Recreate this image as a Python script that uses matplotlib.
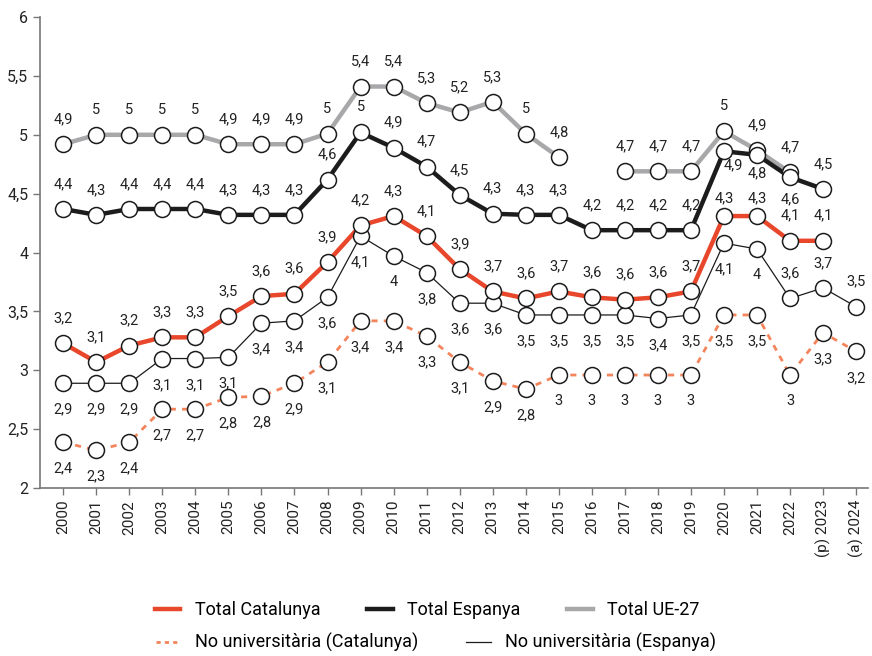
import numpy as np
import matplotlib.pyplot as plt
from matplotlib.lines import Line2D

plt.rcParams['font.family'] = ['Roboto', 'DejaVu Sans']

anys = [str(a) for a in range(2000, 2023)] + ['(p) 2023', '(a) 2024']
nan = np.nan

total_cat = [3.23, 3.07, 3.21, 3.28, 3.28, 3.46, 3.63, 3.65, 3.92, 4.23, 4.31, 4.14, 3.86,
             3.67, 3.61, 3.67, 3.62, 3.60, 3.62, 3.67, 4.31, 4.31, 4.10, 4.10, nan]
total_esp = [4.37, 4.32, 4.37, 4.37, 4.37, 4.32, 4.32, 4.32, 4.62, 5.02, 4.89, 4.73, 4.49,
             4.33, 4.32, 4.32, 4.19, 4.19, 4.19, 4.19, 4.86, 4.83, 4.64, 4.54, nan]
total_ue = [4.92, 5.00, 5.00, 5.00, 5.00, 4.92, 4.92, 4.92, 5.01, 5.41, 5.41, 5.27, 5.19,
            5.28, 5.01, 4.81, nan, 4.69, 4.69, 4.69, 5.03, 4.87, 4.68, nan, nan]
nouni_cat = [2.39, 2.32, 2.39, 2.67, 2.67, 2.77, 2.78, 2.89, 3.07, 3.42, 3.42, 3.29, 3.07,
             2.91, 2.84, 2.96, 2.96, 2.96, 2.96, 2.96, 3.47, 3.47, 2.96, 3.32, 3.16]
nouni_esp = [2.89, 2.89, 2.89, 3.10, 3.10, 3.11, 3.40, 3.42, 3.62, 4.14, 3.97, 3.83, 3.57,
             3.57, 3.47, 3.47, 3.47, 3.47, 3.44, 3.47, 4.08, 4.03, 3.61, 3.70, 3.54]

# desplaçament de l'etiqueta (punts): a sobre, a sota o ajustat
A, B = (0, 18), (0, -19)
off_cat = [A] * 20 + [(0, 13), (0, 13), A, A, A]
off_esp = [A] * 20 + [(7, -10), (0, -13), (0, -16), A, A]
off_ue = [A] * 25
off_ncat = [B] * 25
off_nesp = [B] * 22 + [A, A, A]

vermell = '#E8472B'
taronja = '#F4845C'
gris = '#A8A8AA'
negre = '#1C1C1C'

fig = plt.figure(figsize=(8.72, 6.56), dpi=100)
ax = fig.add_axes([0.046, 0.256, 0.949, 0.718])
x = np.arange(len(anys))

series = [
    (total_ue, off_ue, dict(color=gris, lw=3.2, ls='-')),
    (total_esp, off_esp, dict(color=negre, lw=3.2, ls='-')),
    (nouni_cat, off_ncat, dict(color=taronja, lw=2.0, ls=(0, (2.2, 2.2)))),
    (nouni_esp, off_nesp, dict(color=negre, lw=0.9, ls='-')),
    (total_cat, off_cat, dict(color=vermell, lw=3.2, ls='-')),
]

for vals, offs, st in series:
    v = np.array(vals, dtype=float)
    ax.plot(x, v, color=st['color'], lw=st['lw'], ls=st['ls'], zorder=2)
    ax.plot(x, v, ls='none', marker='o', ms=11.5, mfc='white', mec=negre,
            mew=1.1, zorder=3)
    for xi, yi, off in zip(x, v, offs):
        if np.isnan(yi):
            continue
        txt = f'{round(yi, 1):g}'.replace('.', ',')
        ax.annotate(txt, (xi, yi), xytext=off, textcoords='offset points',
                    ha='center', va='center', fontsize=10.5, color='#222222',
                    zorder=4)

ax.set_xlim(-0.7, 24.35)
ax.set_ylim(2, 6)
ax.set_yticks([2, 2.5, 3, 3.5, 4, 4.5, 5, 5.5, 6])
ax.set_yticklabels(['2', '2,5', '3', '3,5', '4', '4,5', '5', '5,5', '6'], fontsize=11.5)
ax.set_xticks(x)
ax.set_xticklabels(anys, rotation=90, fontsize=11)
for s in ['top', 'right']:
    ax.spines[s].set_visible(False)
for s in ['left', 'bottom']:
    ax.spines[s].set_color('#777777')
    ax.spines[s].set_linewidth(1.2)
ax.tick_params(axis='both', colors='#777777', labelcolor='#222222', length=5, width=1)

h1 = [Line2D([], [], color=vermell, lw=3.2),
      Line2D([], [], color=negre, lw=3.2),
      Line2D([], [], color=gris, lw=3.2)]
l1 = ['Total Catalunya', 'Total Espanya', 'Total UE-27']
h2 = [Line2D([], [], color=taronja, lw=2.0, ls=(0, (1.5, 1.5))),
      Line2D([], [], color=negre, lw=0.9)]
l2 = ['No universitària (Catalunya)', 'No universitària (Espanya)']

fig.legend(h1, l1, loc='center', bbox_to_anchor=(0.49, 0.070), ncol=3,
           frameon=False, fontsize=13, handlelength=1.4, columnspacing=2.6)
fig.legend(h2, l2, loc='center', bbox_to_anchor=(0.50, 0.020), ncol=2,
           frameon=False, fontsize=13, handlelength=1.4, columnspacing=2.6)

fig.savefig('out.png', dpi=100)
